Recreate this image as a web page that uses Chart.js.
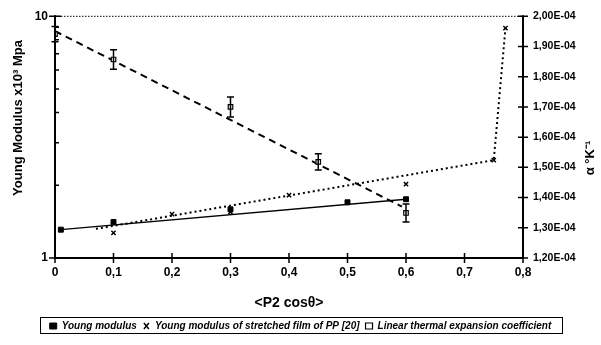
<!DOCTYPE html>
<html>
<head>
<meta charset="utf-8">
<script src="https://cdn.jsdelivr.net/npm/chart.js@4.4.1/dist/chart.umd.min.js"></script>
<style>
  html, body { margin: 0; padding: 0; background: #fff; }
  #wrap { width: 601px; height: 345px; }
</style>
</head>
<body>
<div id="wrap"><canvas id="c"></canvas></div>
<script>
// measured points
const youngX = [0.01, 0.1, 0.3, 0.5, 0.6];
const youngVal = [1.31, 1.41, 1.59, 1.70, 1.75];

const ppX = [0.1, 0.2, 0.3, 0.4, 0.6, 0.75, 0.77];
const ppVal = [1.27, 1.52, 1.55, 1.82, 2.02, 2.54, 8.93];

const alphaX = [0, 0.1, 0.3, 0.45, 0.6];
const alphaVal = [1.941e-4, 1.857e-4, 1.70e-4, 1.518e-4, 1.349e-4];
const alphaErr = [0.025e-4, 0.032e-4, 0.033e-4, 0.027e-4, 0.03e-4];

// fitted lines
const youngFitX = [0.01, 0.6];
const youngFitVal = [1.31, 1.75];
const ppFitX = [0.07, 0.75, 0.77];
const ppFitVal = [1.32, 2.54, 8.93];
const alphaFitX = [0, 0.593];
const alphaFitVal = [1.951e-4, 1.37e-4];

const leftTicks = [1, 2, 3, 4, 5, 6, 7, 8, 9, 10];
const legendLabels = ['Young modulus', 'Young modulus of stretched film of PP [20]', 'Linear thermal expansion coefficient'];

const FONT = '"Liberation Sans", Arial, sans-serif';
const pts = (xs, ys) => xs.map((x, i) => ({ x: x, y: ys[i] }));

// axes, ticks, error bars and side titles
const frame = {
  id: 'frame',
  afterDatasetsDraw(chart) {
    const ctx = chart.ctx;
    const a = chart.chartArea;
    const sx = chart.scales.x, sy = chart.scales.y, sr = chart.scales.y2;
    ctx.save();
    ctx.strokeStyle = '#000';

    // error bars on the expansion coefficient
    ctx.lineWidth = 1.5;
    alphaX.forEach((x, i) => {
      const px = sx.getPixelForValue(x);
      const top = sr.getPixelForValue(alphaVal[i] + alphaErr[i]);
      const bot = sr.getPixelForValue(alphaVal[i] - alphaErr[i]);
      ctx.beginPath();
      ctx.moveTo(px, top); ctx.lineTo(px, bot);
      ctx.moveTo(px - 3.5, top); ctx.lineTo(px + 3.5, top);
      ctx.moveTo(px - 3.5, bot); ctx.lineTo(px + 3.5, bot);
      ctx.stroke();
    });

    // dotted top border
    ctx.lineWidth = 1;
    ctx.setLineDash([1.5, 1.5]);
    ctx.beginPath();
    ctx.moveTo(a.left, a.top); ctx.lineTo(a.right, a.top);
    ctx.stroke();
    ctx.setLineDash([]);

    // axis lines
    ctx.lineWidth = 2;
    ctx.beginPath();
    ctx.moveTo(a.left, a.top - 1); ctx.lineTo(a.left, a.bottom);
    ctx.lineTo(a.right, a.bottom);
    ctx.moveTo(a.right, a.top - 1); ctx.lineTo(a.right, a.bottom + 1);
    ctx.stroke();

    // tick marks crossing the axes
    ctx.lineWidth = 1.5;
    ctx.beginPath();
    sx.ticks.forEach(t => {
      const px = sx.getPixelForValue(t.value);
      ctx.moveTo(px, a.bottom - 5); ctx.lineTo(px, a.bottom + 5);
    });
    sr.ticks.forEach(t => {
      const py = sr.getPixelForValue(t.value);
      ctx.moveTo(a.right - 5, py); ctx.lineTo(a.right + 5, py);
    });
    leftTicks.forEach(v => {
      const py = sy.getPixelForValue(v);
      if (v === 1 || v === 10) {
        ctx.moveTo(a.left - 6, py); ctx.lineTo(a.left + 6, py);
      } else {
        ctx.moveTo(a.left, py); ctx.lineTo(a.left + 4, py);
      }
    });
    ctx.stroke();

    // rotated axis titles
    ctx.fillStyle = '#000';
    ctx.textAlign = 'center';
    ctx.textBaseline = 'middle';
    ctx.font = 'bold 13px ' + FONT;
    ctx.translate(18, 118);
    ctx.rotate(-Math.PI / 2);
    ctx.fillText('Young Modulus x10\u00B3 Mpa', 0, 0);
    ctx.restore();

    ctx.save();
    ctx.fillStyle = '#000';
    ctx.textAlign = 'center';
    ctx.textBaseline = 'middle';
    ctx.font = 'bold 13px ' + FONT;
    ctx.translate(590, 158);
    ctx.rotate(-Math.PI / 2);
    ctx.fillText('\u03B1 \u00B0K\u207B\u00B9', 0, 0);
    ctx.restore();
  },
  afterDraw(chart) {
    // box round the legend
    const boxes = chart.legend.legendHitBoxes;
    if (!boxes || !boxes.length) return;
    const ctx = chart.ctx;
    const first = boxes[0];
    ctx.save();
    ctx.strokeStyle = '#000';
    ctx.lineWidth = 1;
    ctx.strokeRect(40.5, first.top - 3.5, 522, first.height + 6);
    ctx.restore();
  }
};

new Chart(document.getElementById('c'), {
  type: 'scatter',
  data: {
    datasets: [
      {
        label: legendLabels[0],
        data: pts(youngX, youngVal),
        yAxisID: 'y',
        pointStyle: 'rect',
        pointRadius: 3.5,
        backgroundColor: '#000',
        borderColor: '#000',
        borderWidth: 1
      },
      {
        label: legendLabels[1],
        data: pts(ppX, ppVal),
        yAxisID: 'y',
        pointStyle: 'crossRot',
        pointRadius: 3,
        backgroundColor: '#000',
        borderColor: '#000',
        borderWidth: 1.5
      },
      {
        label: legendLabels[2],
        data: pts(alphaX, alphaVal),
        yAxisID: 'y2',
        pointStyle: 'rect',
        pointRadius: 3.2,
        backgroundColor: '#fff',
        borderColor: '#000',
        borderWidth: 1.2
      },
      {
        label: 'fit-young',
        data: pts(youngFitX, youngFitVal),
        yAxisID: 'y',
        showLine: true,
        pointRadius: 0,
        borderColor: '#000',
        borderWidth: 1.3
      },
      {
        label: 'fit-pp',
        data: pts(ppFitX, ppFitVal),
        yAxisID: 'y',
        showLine: true,
        pointRadius: 0,
        borderColor: '#000',
        borderWidth: 2,
        borderDash: [2, 3]
      },
      {
        label: 'fit-alpha',
        data: pts(alphaFitX, alphaFitVal),
        yAxisID: 'y2',
        showLine: true,
        pointRadius: 0,
        borderColor: '#000',
        borderWidth: 2,
        borderDash: [7, 5]
      }
    ]
  },
  options: {
    responsive: true,
    maintainAspectRatio: false,
    animation: false,
    events: [],
    layout: { padding: { top: 13, bottom: 4, left: 0, right: 0 } },
    scales: {
      x: {
        type: 'linear',
        min: 0,
        max: 0.8,
        afterFit: s => { s.height = 57; },
        grid: { drawOnChartArea: false, drawTicks: false },
        border: { display: false },
        ticks: {
          stepSize: 0.1,
          padding: 7,
          color: '#000',
          font: { family: FONT, size: 12, weight: 'bold' },
          callback: v => v === 0 ? '0' : v.toFixed(1).replace('.', ',')
        },
        title: {
          display: true,
          text: '<P2 cos\u03B8>',
          color: '#000',
          font: { family: FONT, size: 14, weight: 'bold' },
          padding: { top: 4, bottom: 3 }
        }
      },
      y: {
        type: 'logarithmic',
        position: 'left',
        min: 1,
        max: 10,
        afterFit: s => { s.width = 55; },
        grid: { drawOnChartArea: false, drawTicks: false },
        border: { display: false },
        ticks: {
          autoSkip: false,
          padding: 7,
          color: '#000',
          font: { family: FONT, size: 12, weight: 'bold' },
          callback: v => (v === 1 || v === 10) ? String(v) : ''
        }
      },
      y2: {
        type: 'linear',
        position: 'right',
        min: 1.2e-4,
        max: 2.0e-4,
        afterFit: s => { s.width = 78; },
        grid: { drawOnChartArea: false, drawTicks: false },
        border: { display: false },
        ticks: {
          stepSize: 1e-5,
          padding: 10,
          color: '#000',
          font: { family: FONT, size: 10.5, weight: 'bold' },
          callback: v => (Math.round(v * 1e6) / 100).toFixed(2).replace('.', ',') + 'E-04'
        }
      }
    },
    plugins: {
      tooltip: { enabled: false },
      legend: {
        position: 'bottom',
        labels: {
          filter: item => item.datasetIndex < 3,
          usePointStyle: true,
          pointStyleWidth: 7,
          boxHeight: 6,
          padding: 6,
          color: '#000',
          font: { family: FONT, size: 10, weight: 'bold', style: 'italic' }
        }
      }
    }
  },
  plugins: [frame]
});
</script>
</body>
</html>
